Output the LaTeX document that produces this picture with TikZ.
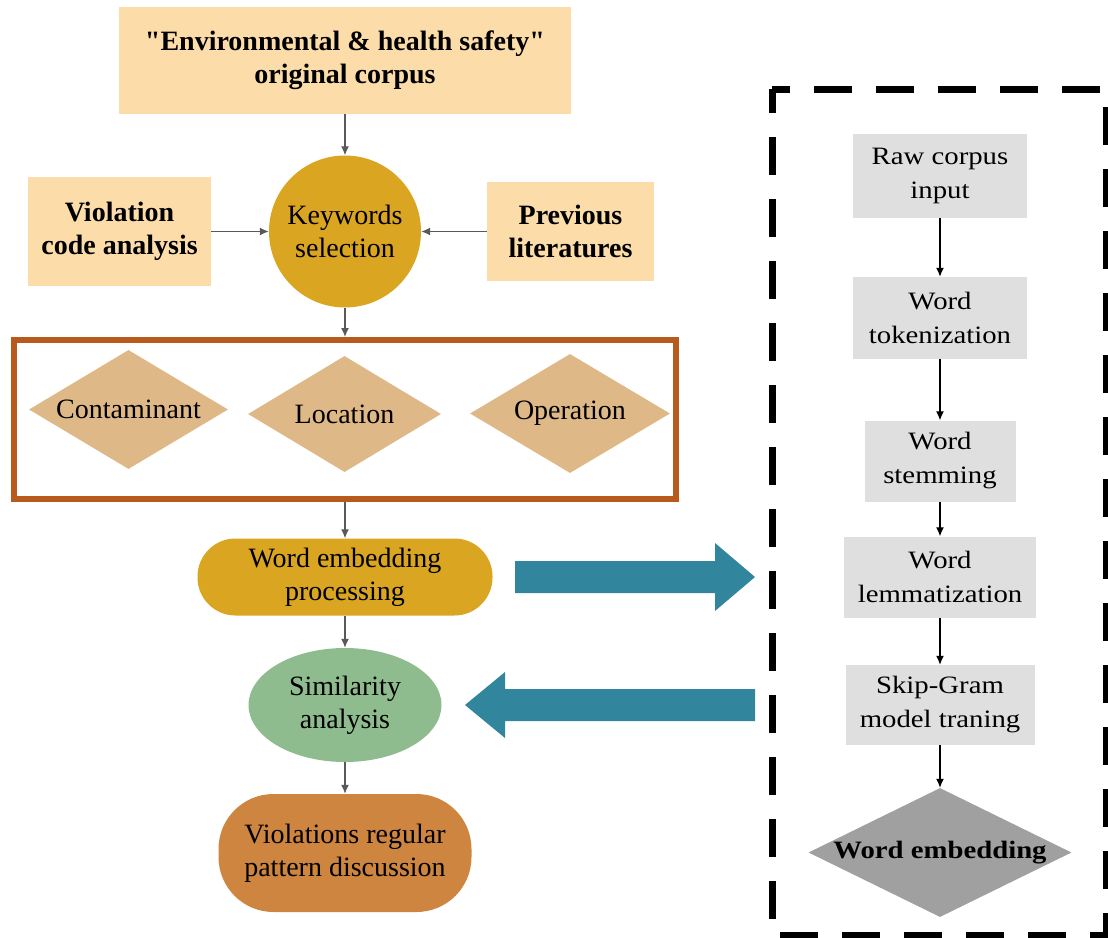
\documentclass[tikz,border=0pt]{standalone}
\usepackage{fontspec}
\setmainfont{Liberation Serif}[Ligatures=TeXOff]
\newfontfamily\widefont{Liberation Serif}[FakeStretch=1.15]
\usepackage{tikz}
\usetikzlibrary{arrows.meta,shapes.geometric}
\definecolor{peachfill}{HTML}{FCDDAA}
\definecolor{goldfill}{HTML}{DAA520}
\definecolor{rustframe}{HTML}{B85A1B}
\definecolor{tanfill}{HTML}{DEB887}
\definecolor{sagefill}{HTML}{8FBC8F}
\definecolor{perufill}{HTML}{CD853F}
\definecolor{tealarrow}{HTML}{31859C}
\definecolor{greybox}{HTML}{DFDFDF}
\definecolor{greydiamond}{HTML}{A0A0A0}
\definecolor{greyline}{HTML}{595959}

\begin{document}
\begin{tikzpicture}[x=1pt,y=-1pt,
  lefttext/.style={font=\fontsize{28}{33}\selectfont, align=center, inner sep=0pt},
  peachbox/.style={lefttext, font=\bfseries\fontsize{28}{33}\selectfont, fill=peachfill},
  tandiamond/.style={lefttext, diamond, aspect=1.66, fill=tanfill},
  stadium/.style={lefttext, rectangle, rounded corners=#1},
  greystep/.style={font=\widefont\fontsize{25}{34}\selectfont, align=center, inner sep=0pt, fill=greybox},
  link/.style={draw=greyline, line width=1.3pt, -{Latex[length=9pt,width=8pt]}},
  flow/.style={draw=black, line width=1.3pt, -{Latex[length=9pt,width=8pt]}}]
  \useasboundingbox (0,0) rectangle (1108,937);

  % left column
  \node[peachbox, minimum width=452, minimum height=107] (corpus) at (345,60.5)
    {"Environmental \& health safety"\\original corpus};
  \node[peachbox, minimum width=183, minimum height=109] (violation) at (119.5,231.5)
    {Violation\\code analysis};
  \node[peachbox, minimum width=167, minimum height=99] (previous) at (570.5,231.5)
    {Previous\\literatures};
  \node[lefttext, circle, minimum size=152, fill=goldfill] (keywords) at (345,231.5)
    {Keywords\\selection};

  \node[draw=rustframe, line width=6pt, minimum width=662, minimum height=159] (frame) at (345,419.5) {};
  \node[tandiamond, minimum width=199, minimum height=119] (cont) at (128.5,409.5) {Contaminant};
  \node[tandiamond, minimum width=193, minimum height=116] (loc) at (344.5,414) {Location};
  \node[tandiamond, minimum width=200, minimum height=119] (oper) at (570,413.5) {Operation};

  \node[stadium=38, fill=goldfill, minimum width=295, minimum height=77] (wep) at (345,577)
    {Word embedding\\processing};
  \node[lefttext, ellipse, fill=sagefill, minimum width=193, minimum height=114] (sim) at (345,705)
    {Similarity\\analysis};
  \node[stadium=55, fill=perufill, minimum width=253, minimum height=118] (regular) at (345,853)
    {Violations regular\\pattern discussion};

  \draw[link] (corpus) -- (keywords);
  \draw[link] (violation) -- (keywords);
  \draw[link] (previous) -- (keywords);
  \draw[link] (keywords) -- (frame.north);
  \draw[link] (frame.south) -- (wep);
  \draw[link] (wep) -- (sim);
  \draw[link] (sim) -- (regular);

  % big arrows
  \fill[tealarrow] (515,561) -- (715,561) -- (715,543) -- (755,577) -- (715,611) -- (715,593) -- (515,593) -- cycle;
  \fill[tealarrow] (755,689) -- (505,689) -- (505,672) -- (465,705) -- (505,738) -- (505,721) -- (755,721) -- cycle;

  % right column
  \draw[black, line width=7pt, dash pattern=on 38pt off 24pt, dash phase=14pt] (772,89) rectangle (1106,935);
  \node[greystep, minimum width=174, minimum height=84] (raw) at (940,176) {Raw corpus\\input};
  \node[greystep, minimum width=174, minimum height=82] (token) at (940,318) {Word\\tokenization};
  \node[greystep, minimum width=151, minimum height=81] (stem) at (940,461) {Word\\stemming};
  \node[greystep, minimum width=192, minimum height=81] (lemma) at (940,577) {Word\\lemmatization};
  \node[greystep, minimum width=189, minimum height=80] (skip) at (940,705) {Skip-Gram\\model traning};
  \node[diamond, aspect=2.04, inner sep=0pt, fill=greydiamond, minimum width=263, minimum height=129,
    font=\widefont\bfseries\fontsize{25}{34}\selectfont] (wemb) at (940,852.5) {Word embedding};

  \foreach \a/\b in {raw/token, token/stem, stem/lemma, lemma/skip, skip/wemb}
    \draw[flow] (\a) -- (\b);
\end{tikzpicture}
\end{document}
